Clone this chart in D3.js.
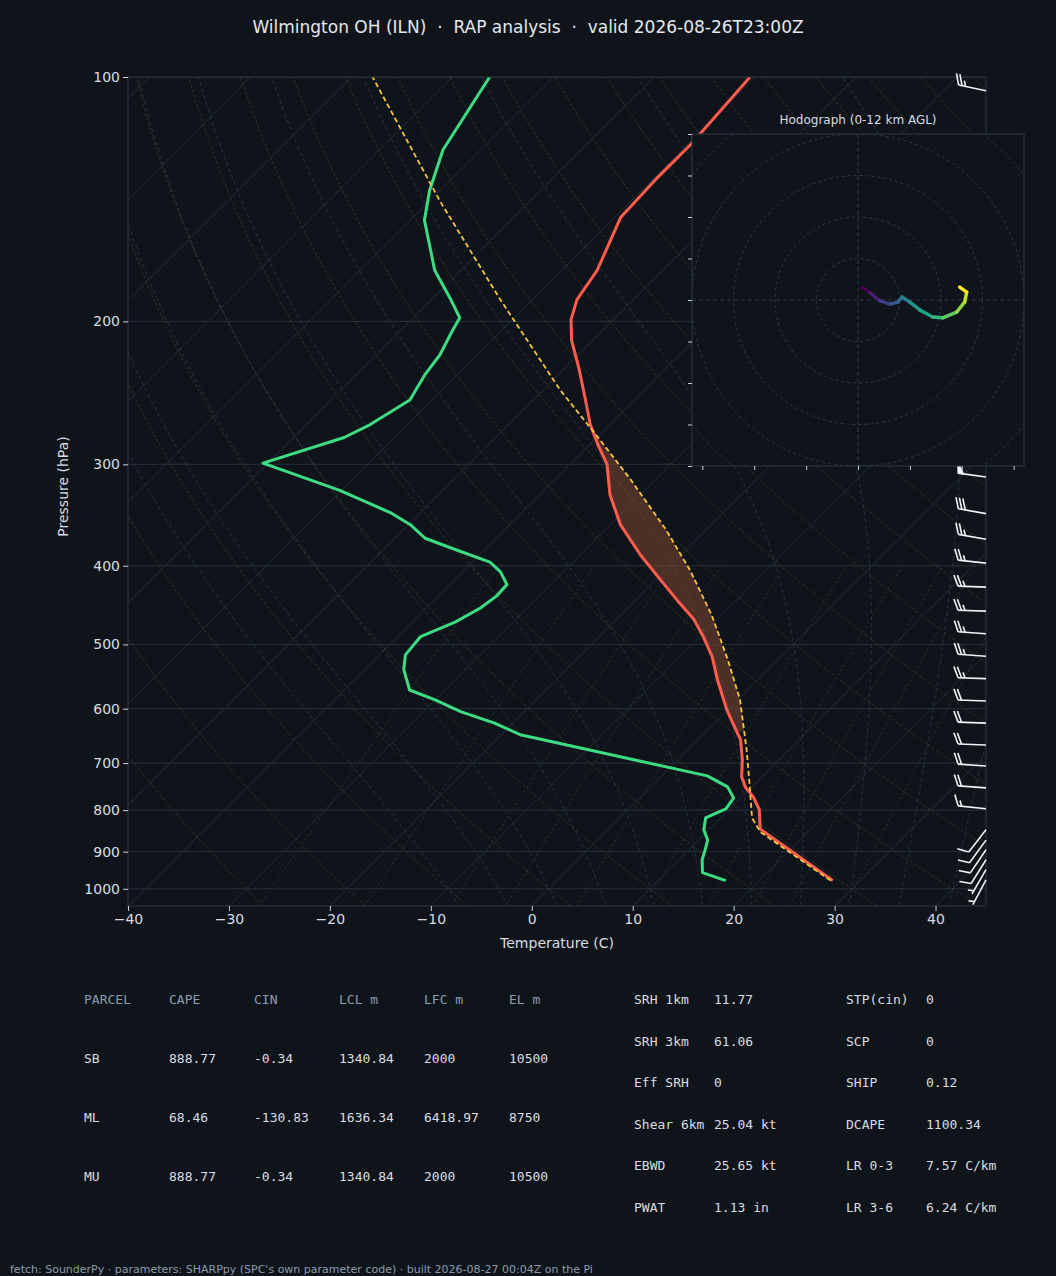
<!DOCTYPE html>
<html><head><meta charset="utf-8">
<script src="https://cdn.jsdelivr.net/npm/d3@7"></script>
<style>
body{margin:0;background:#0f141a;}
svg{display:block;}
</style></head>
<body><div id="chart"></div>
<script>
const tempP = [977,844,799,770,751,728,694,655,625,602,553,518,489,466,441,416,388,356,327,300,284,268,250,229,211,199,188,173,149,134,121,100];
const tempT = [27.3,15.0,13.0,11.1,9.5,8.0,6.4,4.2,1.8,-0.1,-4.0,-6.8,-9.7,-12.3,-15.9,-19.6,-24.0,-29.0,-33.0,-36.3,-39.1,-41.9,-44.8,-48.5,-52.1,-54.2,-55.6,-56.5,-59.4,-59.7,-59.7,-60.5];
const dewP = [977,955,921,895,871,846,818,797,773,749,726,646,625,605,585,569,537,515,489,469,451,436,422,407,396,382,370,356,344,323,299,278,268,250,233,220,206,198,188,173,150,138,123,100];
const dewT = [16.7,13.6,12.3,11.6,10.9,9.5,8.5,9.6,9.3,7.6,4.5,-18.1,-21.8,-26.3,-30.0,-33.5,-36.1,-37.4,-37.7,-35.7,-34.6,-34.2,-34.3,-36.2,-38.2,-42.9,-47.0,-49.8,-53.0,-60.2,-70.5,-65.0,-63.7,-62.2,-63.2,-63.7,-64.8,-65.4,-68.1,-72.6,-78.6,-81.0,-83.7,-86.3];
const parcelP = [977,851,818,755,674,585,523,460,405,361,313,280,243,188,142,100];
const parcelT = [27.1,15.3,13.1,10.1,5.8,0.2,-4.9,-11.0,-17.6,-24.0,-32.5,-39.4,-48.3,-63.2,-79.0,-97.9];
const barbP = [104,311,345,371,397,425,455,485,517,551,587,625,665,706,751,797,846,871,895,921,947,975];
const barbSpd = [25,50,30,25,25,25,25,25,25,25,20,20,20,20,20,15,10,10,10,10,5,5];
const barbDir = [282,278,280,280,276,272,272,274,274,272,272,272,272,274,274,276,218,216,214,212,210,208];
const hodoU = [1.0,2.9,5.3,7.7,9.6,10.6,12.5,14.9,18.0,20.4,23.8,25.7,26.2,24.5];
const hodoV = [3.1,1.7,-0.2,-1.0,-0.5,0.7,-0.5,-2.4,-4.1,-4.3,-2.9,-0.5,1.9,3.1];
const pTicks = [100,200,300,400,500,600,700,800,900,1000];
const tTicks = [-40,-30,-20,-10,0,10,20,30,40];
const parcelRows = [
  ["SB","888.77","-0.34","1340.84","2000","10500"],
  ["ML","68.46","-130.83","1636.34","6418.97","8750"],
  ["MU","888.77","-0.34","1340.84","2000","10500"]];
const parcelHead = ["PARCEL","CAPE","CIN","LCL m","LFC m","EL m"];
const indexRows = [
  ["SRH 1km","11.77","STP(cin)","0"],
  ["SRH 3km","61.06","SCP","0"],
  ["Eff SRH","0","SHIP","0.12"],
  ["Shear 6km","25.04 kt","DCAPE","1100.34"],
  ["EBWD","25.65 kt","LR 0-3","7.57 C/km"],
  ["PWAT","1.13 in","LR 3-6","6.24 C/km"]];

const W = 1056, H = 1276;
const L = 128, R = 986, T0 = 77, B = 906;
const svg = d3.select("#chart").append("svg").attr("width", W).attr("height", H)
  .style("font-family", "DejaVu Sans");
svg.append("rect").attr("width", W).attr("height", H).attr("fill", "#0f141a");

const xT = d3.scaleLinear().domain([-40, 45]).range([L, R]);
const yP = d3.scaleLog().domain([1050, 100]).range([B, T0]);
const X = (t, p) => xT(t) + (B - yP(p));
const line = d3.line().x(d => X(d[0], d[1])).y(d => yP(d[1]));

svg.append("clipPath").attr("id", "plot").append("rect")
  .attr("x", L).attr("y", T0).attr("width", R - L).attr("height", B - T0);
const g = svg.append("g").attr("clip-path", "url(#plot)");

// isobars
pTicks.forEach(p => g.append("line").attr("x1", L).attr("x2", R)
  .attr("y1", yP(p)).attr("y2", yP(p)).attr("stroke", "#263039").attr("stroke-width", 1));
// isotherms
for (let t = -160; t <= 50; t += 10) {
  g.append("path").attr("d", line([[t, 1050], [t, 100]]))
    .attr("stroke", "#222c36").attr("fill", "none").attr("stroke-width", 1);
}
// dry adiabats
const pLev = d3.range(0, 121).map(i => 1050 * Math.pow(100 / 1050, i / 120));
for (let th = -30; th <= 200; th += 10) {
  const pts = pLev.map(p => [(th + 273.15) * Math.pow(p / 1000, 0.2857) - 273.15, p]);
  g.append("path").attr("d", line(pts)).attr("fill", "none")
    .attr("stroke", "#4a3f2c").attr("stroke-width", 0.8).attr("stroke-dasharray", "3,2").attr("opacity", 0.8);
}
// moist adiabats
const es = tc => 6.112 * Math.exp(17.67 * tc / (tc + 243.5));
function moist(t0) {
  const Rd = 287.04, cp = 1005.7, Lv = 2.501e6, eps = 0.622;
  const slope = (T, p) => {
    const e = es(T - 273.15), rs = eps * e / Math.max(p - e, 1);
    return (Rd * T + Lv * rs) / (cp + Lv * Lv * rs * eps / (Rd * T * T)) / p;
  };
  let T = t0 + 273.15, p = 1000;
  while (p < 1050) { T += slope(T, p) * 2; p += 2; }
  const out = [];
  while (p > 100) { out.push([T - 273.15, p]); T -= slope(T, p) * 2; p -= 2; }
  out.push([T - 273.15, 100]);
  return out;
}
for (let t = -10; t <= 45; t += 5) {
  g.append("path").attr("d", line(moist(t))).attr("fill", "none")
    .attr("stroke", "#2b3b4a").attr("stroke-width", 0.8).attr("stroke-dasharray", "4,3");
}
// mixing ratio lines
[0.4, 1, 2, 3, 5, 8, 12, 16, 20, 28].forEach(w => {
  const pts = d3.range(1050, 399, -10).map(p => {
    const e = (w / 1000) * p / (0.622 + w / 1000), a = Math.log(e / 6.112);
    return [243.5 * a / (17.67 - a), p];
  });
  g.append("path").attr("d", line(pts)).attr("fill", "none")
    .attr("stroke", "#2e3c32").attr("stroke-width", 0.8).attr("stroke-dasharray", "2,3");
});

// CAPE shading
const lp = p => Math.log(p);
function interp(P, V, p) {
  for (let i = 0; i < P.length - 1; i++) {
    if (p <= P[i] && p >= P[i + 1]) {
      const f = (lp(p) - lp(P[i])) / (lp(P[i + 1]) - lp(P[i]));
      return V[i] + f * (V[i + 1] - V[i]);
    }
  }
  return NaN;
}
const capeP = d3.range(640, 270, -2).filter(p => interp(parcelP, parcelT, p) > interp(tempP, tempT, p));
const area = d3.area()
  .x0(p => X(interp(tempP, tempT, p), p)).x1(p => X(interp(parcelP, parcelT, p), p))
  .y(p => yP(p));
g.append("path").attr("d", area(capeP)).attr("fill", "#8a4a34").attr("opacity", 0.5);

// profiles
g.append("path").attr("d", line(dewT.map((t, i) => [t, dewP[i]]))).attr("fill", "none")
  .attr("stroke", "#3ddc84").attr("stroke-width", 3).attr("stroke-linejoin", "round");
g.append("path").attr("d", line(tempT.map((t, i) => [t, tempP[i]]))).attr("fill", "none")
  .attr("stroke", "#ff5c4d").attr("stroke-width", 3).attr("stroke-linejoin", "round");
g.append("path").attr("d", line(parcelT.map((t, i) => [t, parcelP[i]]))).attr("fill", "none")
  .attr("stroke", "#f5c542").attr("stroke-width", 1.8).attr("stroke-dasharray", "5,3");

// frame + axes
svg.append("rect").attr("x", L).attr("y", T0).attr("width", R - L).attr("height", B - T0)
  .attr("fill", "none").attr("stroke", "#2c3844");
const ya = svg.append("g").attr("transform", `translate(${L},0)`)
  .call(d3.axisLeft(yP).tickValues(pTicks).tickFormat(d3.format("d")).tickSize(5));
const xa = svg.append("g").attr("transform", `translate(0,${B})`)
  .call(d3.axisBottom(xT).tickValues(tTicks).tickFormat(d => d < 0 ? "\u2212" + Math.abs(d) : d).tickSize(5));
[ya, xa].forEach(a => {
  a.select(".domain").remove();
  a.selectAll("line").attr("stroke", "#c8d0d8");
  a.selectAll("text").attr("fill", "#d8dde3").style("font-size", "14px").style("font-family", "DejaVu Sans");
});
svg.append("text").attr("x", 557).attr("y", 948).attr("text-anchor", "middle")
  .attr("fill", "#d8dde3").style("font-size", "14px").text("Temperature (C)");
svg.append("text").attr("transform", "rotate(-90)").attr("x", -(T0 + B) / 2 + 5).attr("y", 68)
  .attr("text-anchor", "middle").attr("fill", "#d8dde3").style("font-size", "14px").text("Pressure (hPa)");

// wind barbs
function barb(x0, y0, spd, dir) {
  const len = 28, a = dir * Math.PI / 180;
  const ux = Math.sin(a), uy = -Math.cos(a);
  const px = -uy, py = ux, h = 11, lean = 4.5;
  const bg = svg.append("g").attr("stroke", "#f0f2f5").attr("stroke-width", 1.6).attr("fill", "#f0f2f5");
  const ex = x0 + ux * len, ey = y0 + uy * len;
  bg.append("line").attr("x1", x0).attr("y1", y0).attr("x2", ex).attr("y2", ey);
  let s = Math.round(spd / 5) * 5, pos = 0;
  while (s >= 50) {
    const bx = ex - ux * pos, by = ey - uy * pos;
    const cx = bx - ux * 5, cy = by - uy * 5;
    bg.append("path").attr("d", `M${bx},${by}L${bx + px * h + ux * 2},${by + py * h + uy * 2}L${cx},${cy}Z`);
    s -= 50; pos += 7;
  }
  while (s >= 10) {
    const bx = ex - ux * pos, by = ey - uy * pos;
    bg.append("line").attr("x1", bx).attr("y1", by)
      .attr("x2", bx + px * h + ux * lean).attr("y2", by + py * h + uy * lean);
    s -= 10; pos += 3.5;
  }
  if (s >= 5) {
    if (pos === 0) pos = 3.5;
    const bx = ex - ux * pos, by = ey - uy * pos;
    bg.append("line").attr("x1", bx).attr("y1", by)
      .attr("x2", bx + px * h * 0.5 + ux * lean * 0.5).attr("y2", by + py * h * 0.5 + uy * lean * 0.5);
  }
}
barbP.forEach((p, i) => barb(R, yP(p), barbSpd[i], barbDir[i]));

// hodograph
const hx = d3.scaleLinear().domain([-40, 40]).range([692, 1024]);
const hy = d3.scaleLinear().domain([-40, 40]).range([466, 134]);
const hg = svg.append("g");
hg.append("clipPath").attr("id", "hodo").append("rect")
  .attr("x", 692).attr("y", 134).attr("width", 332).attr("height", 332);
hg.append("rect").attr("x", 692).attr("y", 134).attr("width", 332).attr("height", 332)
  .attr("fill", "#0f141a");
const hc = hg.append("g").attr("clip-path", "url(#hodo)");
[10, 20, 30, 40, 50, 60].forEach(r => hc.append("circle").attr("cx", hx(0)).attr("cy", hy(0))
  .attr("r", hy(0) - hy(r)).attr("fill", "none").attr("stroke", "#2c3844").attr("stroke-dasharray", "3,3"));
hc.append("line").attr("x1", 692).attr("x2", 1024).attr("y1", hy(0)).attr("y2", hy(0))
  .attr("stroke", "#2c3844").attr("stroke-dasharray", "4,3");
hc.append("line").attr("y1", 134).attr("y2", 466).attr("x1", hx(0)).attr("x2", hx(0))
  .attr("stroke", "#2c3844").attr("stroke-dasharray", "4,3");
for (let i = 0; i < hodoU.length - 1; i++) {
  hc.append("line").attr("x1", hx(hodoU[i])).attr("y1", hy(hodoV[i]))
    .attr("x2", hx(hodoU[i + 1])).attr("y2", hy(hodoV[i + 1]))
    .attr("stroke", d3.interpolateViridis(i / (hodoU.length - 2))).attr("stroke-width", 3.5)
    .attr("stroke-linecap", "round");
}
hg.append("rect").attr("x", 692).attr("y", 134).attr("width", 332).attr("height", 332)
  .attr("fill", "none").attr("stroke", "#2c3844");
hg.append("g").attr("transform", "translate(692,0)")
  .call(d3.axisLeft(hy).tickValues(d3.range(-40, 41, 10)).tickFormat("").tickSize(4))
  .call(a => { a.select(".domain").remove(); a.selectAll("line").attr("stroke", "#c8d0d8"); });
hg.append("g").attr("transform", "translate(0,466)")
  .call(d3.axisBottom(hx).tickValues(d3.range(-37.5, 38, 12.5)).tickFormat("").tickSize(4))
  .call(a => { a.select(".domain").remove(); a.selectAll("line").attr("stroke", "#c8d0d8"); });
hg.append("text").attr("x", 858).attr("y", 124).attr("text-anchor", "middle")
  .attr("fill", "#d8dde3").style("font-size", "12px").text("Hodograph (0-12 km AGL)");

// title
svg.append("text").attr("x", 528).attr("y", 33).attr("text-anchor", "middle")
  .attr("fill", "#e4e8ec").style("font-size", "17px").style("white-space", "pre")
  .text("Wilmington OH (ILN)  \u00b7  RAP analysis  \u00b7  valid 2026-08-26T23:00Z");

// tables
const mono = "DejaVu Sans Mono";
const colX = [84, 169, 254, 339, 424, 509];
parcelHead.forEach((h, i) => svg.append("text").attr("x", colX[i]).attr("y", 1004)
  .attr("fill", "#8b9cb0").style("font-family", mono).style("font-size", "13px").text(h));
parcelRows.forEach((r, j) => r.forEach((v, i) => svg.append("text").attr("x", colX[i]).attr("y", 1063 + j * 59)
  .attr("fill", "#d8dde3").style("font-family", mono).style("font-size", "13px").text(v)));
const icol = [634, 714, 846, 926];
indexRows.forEach((r, j) => r.forEach((v, i) => svg.append("text").attr("x", icol[i]).attr("y", 1004 + j * 41.6)
  .attr("fill", "#d8dde3").style("font-family", mono).style("font-size", "13px").text(v)));

svg.append("text").attr("x", 10).attr("y", 1273).attr("fill", "#8b9cb0").style("font-size", "11px")
  .text("fetch: SounderPy \u00b7 parameters: SHARPpy (SPC's own parameter code) \u00b7 built 2026-08-27 00:04Z on the Pi");
</script></body></html>
